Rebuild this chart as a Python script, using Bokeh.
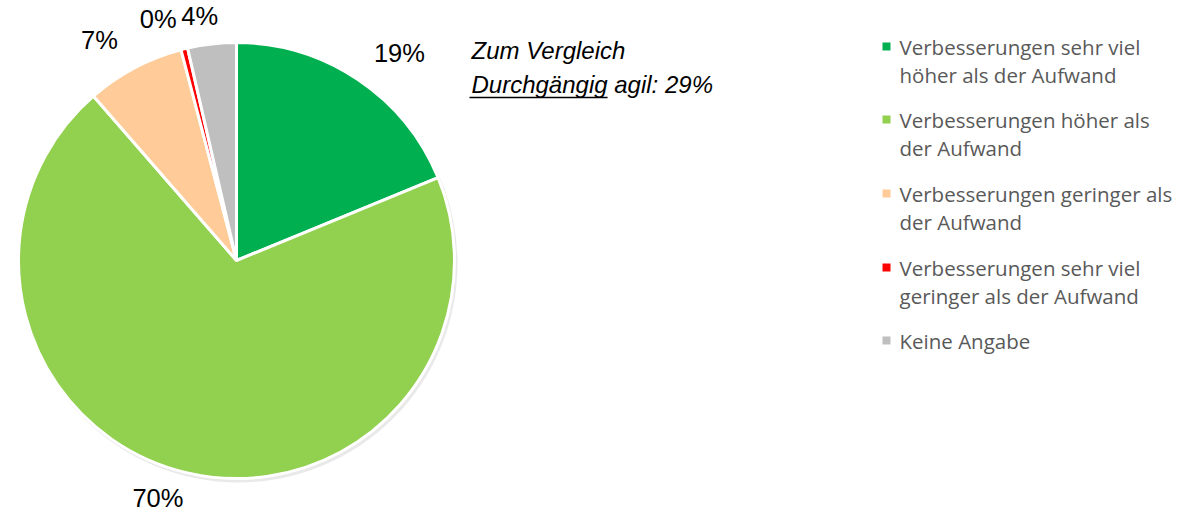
import numpy as np
from bokeh.plotting import figure
from bokeh.models import Range1d
from bokeh.core.properties import value
from bokeh.embed import file_html
from bokeh.resources import INLINE

# ---- data ----
categories = [
    "Verbesserungen sehr viel\nhöher als der Aufwand",
    "Verbesserungen höher als\nder Aufwand",
    "Verbesserungen geringer als\nder Aufwand",
    "Verbesserungen sehr viel\ngeringer als der Aufwand",
    "Keine Angabe",
]
shares = [18.8, 69.8, 7.3, 0.5, 3.6]
pct_labels = ["19%", "70%", "7%", "0%", "4%"]
colors = ["#00B050", "#92D050", "#FFCC99", "#FF0000", "#BFBFBF"]
note_lines = ["Zum Vergleich", "Durchgängig agil: 29%"]
note_underlined_word = "Durchgängig"

W, H = 1197, 514
p = figure(width=W, height=H, output_backend="svg", toolbar_location=None,
           x_range=Range1d(0, W), y_range=Range1d(0, H),
           min_border=0, outline_line_color=None)
p.axis.visible = False
p.grid.visible = False
p.background_fill_color = "white"

cx, cy, R = 236, H - 260, 218

# soft shadow
p.circle(x=[cx + 2], y=[cy - 3], radius=R + 1, fill_color="#c8c8c8", fill_alpha=0.4, line_color=None)

vals = np.array(shares) / sum(shares)
ang = vals * 2 * np.pi
ends = np.pi / 2 - np.cumsum(ang)
starts = ends + ang
p.wedge(x=cx, y=cy, radius=R, start_angle=list(starts), end_angle=list(ends),
        direction="clock", fill_color=colors, line_color="white", line_width=3)

# percent labels around the slices' mid angles
mids = (starts + ends) / 2
nudge = np.radians([-4.3, -5, 4, 4.1, 2.1])
lab_r = np.array([1.21, 1.147, 1.19, 1.165, 1.133])
lx = cx + lab_r * R * np.cos(mids + nudge)
ly = cy + lab_r * R * np.sin(mids + nudge)
p.text(x=list(lx), y=list(ly), text=pct_labels, text_font=value("Liberation Sans"),
       text_font_size="25.5px", text_align="center", text_baseline="middle", text_color="#000000")

# note
fs = 24
p.text(x=[471, 471], y=[H - 50, H - 84], text=note_lines, text_font=value("Liberation Sans"),
       text_font_style="italic", text_font_size=f"{fs}px", text_align="left",
       text_baseline="middle", text_color="#000000")
ul_w = 5.669 * fs  # Arial advance width of the underlined word
p.segment(x0=[469], y0=[H - 97], x1=[471 + ul_w], y1=[H - 97], line_color="#000000", line_width=1.3)

# legend
entry_y = [46, 119, 193, 267, 340]
for i, (lab, col) in enumerate(zip(categories, colors)):
    y0 = H - entry_y[i]
    p.scatter(x=[886], y=[y0], marker="square", size=8, fill_color=col, line_color=None)
    for j, line in enumerate(lab.split("\n")):
        p.text(x=[899], y=[y0 - 28 * j], text=[line], text_font=value("Open Sans"),
               text_font_size="20.5px", text_align="left", text_baseline="middle",
               text_color="#595959")

open("out.html", "w").write(file_html(p, INLINE))
